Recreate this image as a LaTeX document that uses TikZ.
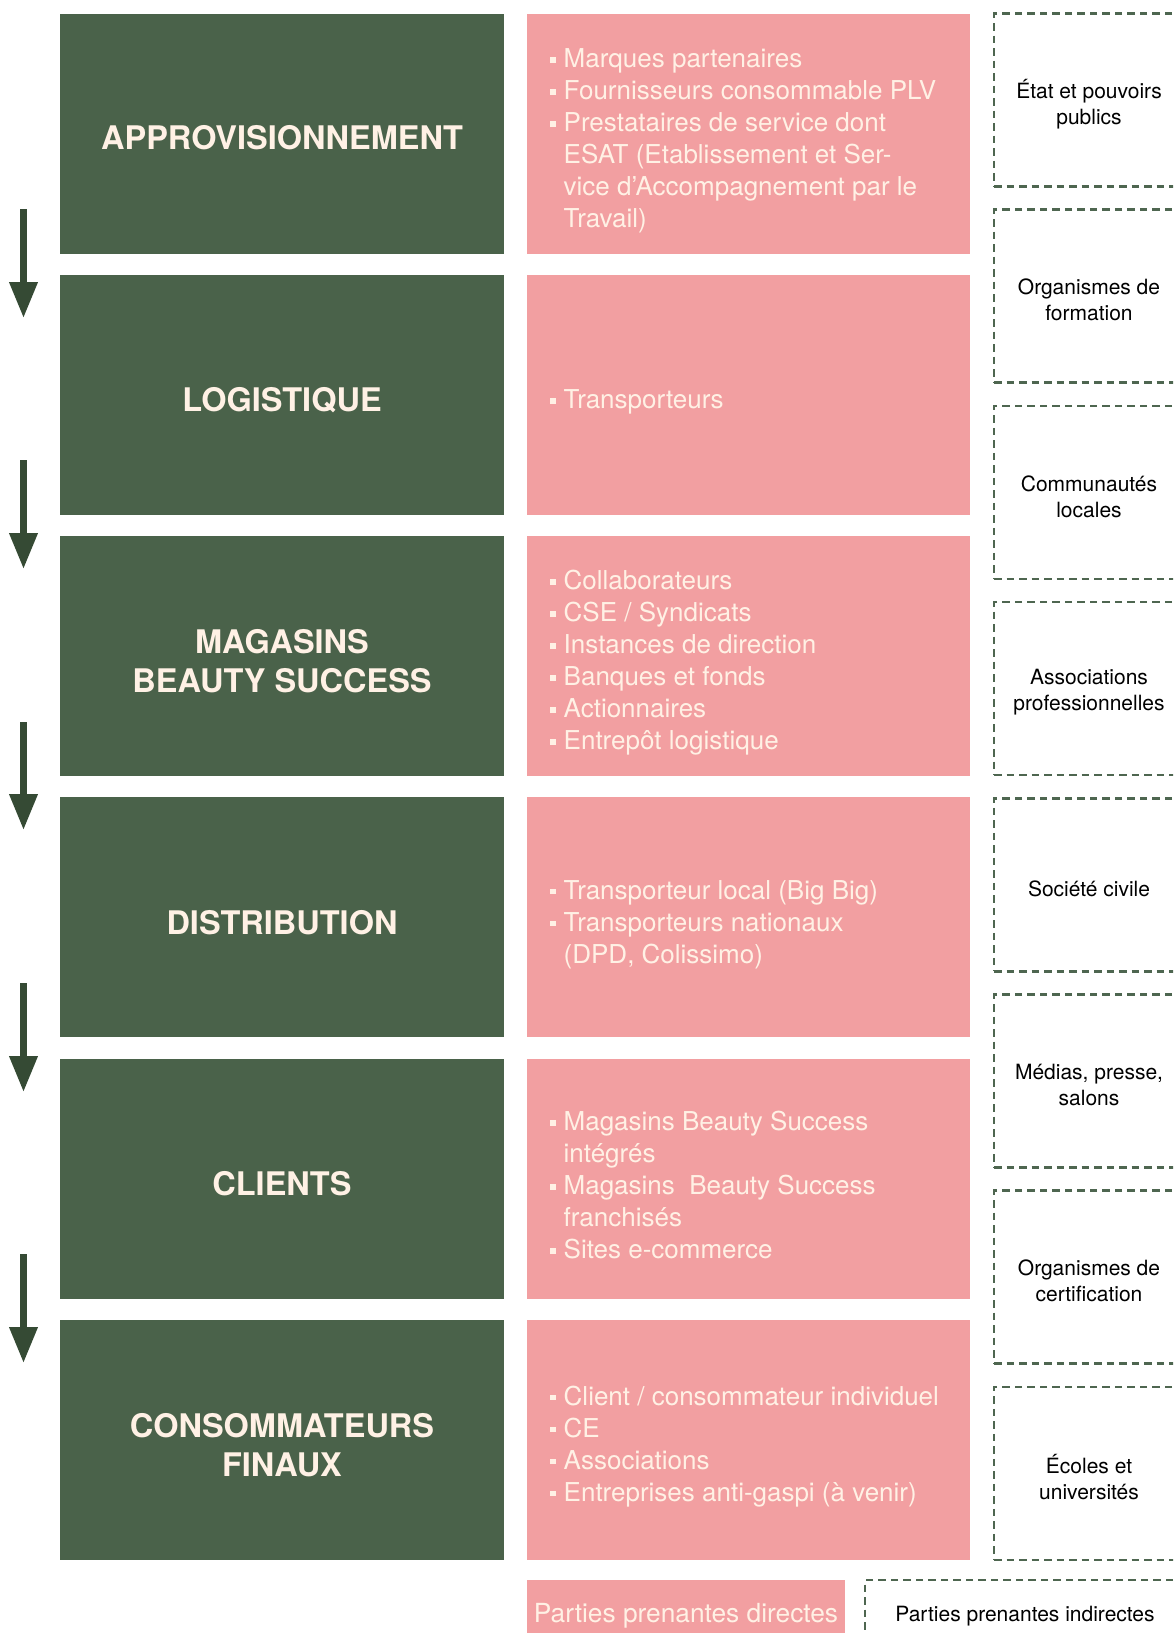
\documentclass[tikz,border=0pt]{standalone}
\usepackage{fontspec}
\setmainfont{TeX Gyre Heros}
\usetikzlibrary{arrows.meta}

\definecolor{forest}{HTML}{4A624A}
\definecolor{arrowgreen}{HTML}{354A34}
\definecolor{rose}{HTML}{F29FA1}
\definecolor{cream}{HTML}{FFF1E5}
\definecolor{dashgreen}{HTML}{4E6650}

% list bullet: small square followed by the hanging indent
\newcommand{\bul}{\makebox[13.5pt][l]{\rule[5pt]{5.5pt}{5.5pt}}}
\newcommand{\cont}{\hspace*{13.5pt}}

\tikzset{
  stagebox/.style={fill=forest, draw=none, minimum width=444pt, minimum height=240pt,
    inner sep=0pt},
  stagetext/.style={text=cream, align=center, inner sep=0pt,
    font=\fontsize{32.5}{39}\selectfont\bfseries},
  listbox/.style={fill=rose, draw=none, minimum width=443pt, minimum height=240pt, inner sep=0pt},
  listtext/.style={text=cream, align=left, anchor=west, inner sep=0pt,
    font=\fontsize{26}{32}\selectfont},
  indirbox/.style={draw=dashgreen, line width=2.6pt, dash pattern=on 7.5pt off 5pt,
    minimum width=190pt, minimum height=173pt, inner sep=0pt},
  indirtext/.style={align=center, inner sep=0pt, text=black,
    font=\fontsize{21}{26}\selectfont},
  flowarrow/.style={draw=arrowgreen, line width=7pt,
    -{Triangle[width=27pt,length=36pt]}, fill=arrowgreen},
}

\begin{document}
\begin{tikzpicture}[x=1pt,y=-1pt]
\useasboundingbox (0,0) rectangle (1173,1633);
\clip (0,0) rectangle (1173,1633);
\fill[white] (0,0) rectangle (1173,1633);

% value-chain stages
\node[stagebox] (g1) at (282,133.5) {};
\node[stagebox] (g2) at (282,394.8) {};
\node[stagebox] (g3) at (282,656.1) {};
\node[stagebox] (g4) at (282,917.4) {};
\node[stagebox] (g5) at (282,1178.7) {};
\node[stagebox] (g6) at (282,1440) {};
\node[stagetext] (s1) at (282,138) {APPROVISIONNEMENT};
\node[stagetext] (s2) at (282,400) {LOGISTIQUE};
\node[stagetext] (s3) at (282,661) {MAGASINS\\BEAUTY SUCCESS};
\node[stagetext] (s4) at (282,922.5) {DISTRIBUTION};
\node[stagetext] (s5) at (282,1184) {CLIENTS};
\node[stagetext] (s6) at (282,1445) {CONSOMMATEURS\\FINAUX};

% direct stakeholders
\node[listbox] (p1) at (748.5,133.5) {};
\node[listbox] (p2) at (748.5,394.8) {};
\node[listbox] (p3) at (748.5,656.1) {};
\node[listbox] (p4) at (748.5,917.4) {};
\node[listbox] (p5) at (748.5,1178.7) {};
\node[listbox] (p6) at (748.5,1440) {};

\node[listtext] (t1) at (550,141) {\bul Marques partenaires\\
  \bul Fournisseurs consommable PLV\\
  \bul Prestataires de service dont\\
  \cont ESAT (Etablissement et Ser-\\
  \cont vice d'Accompagnement par le\\
  \cont Travail)};
\node[listtext] (t2) at (550,402) {\bul Transporteurs};
\node[listtext] (t3) at (550,663) {\bul Collaborateurs\\
  \bul CSE / Syndicats\\
  \bul Instances de direction\\
  \bul Banques et fonds\\
  \bul Actionnaires\\
  \bul Entrepôt logistique};
\node[listtext] (t4) at (550,924.5) {\bul Transporteur local (Big Big)\\
  \bul Transporteurs nationaux\\
  \cont (DPD, Colissimo)};
\node[listtext] (t5) at (550,1185.5) {\bul Magasins Beauty Success\\
  \cont intégrés\\
  \bul Magasins\ \ Beauty Success\\
  \cont franchisés\\
  \bul Sites e-commerce};
\node[listtext] (t6) at (550,1446.5) {\bul Client / consommateur individuel\\
  \bul CE\\
  \bul Associations\\
  \bul Entreprises anti-gaspi (à venir)};

% indirect stakeholders
\node[indirbox] (d1) at (1089,100) {};
\node[indirbox] (d2) at (1089,296.2) {};
\node[indirbox] (d3) at (1089,492.4) {};
\node[indirbox] (d4) at (1089,688.6) {};
\node[indirbox] (d5) at (1089,884.8) {};
\node[indirbox] (d6) at (1089,1081) {};
\node[indirbox] (d7) at (1089,1277.2) {};
\node[indirbox] (d8) at (1089,1473.4) {};
\node[indirtext] (e1) at (1089,104) {État et pouvoirs\\publics};
\node[indirtext] (e2) at (1089,300.2) {Organismes de\\formation};
\node[indirtext] (e3) at (1089,496.4) {Communautés\\locales};
\node[indirtext] (e4) at (1089,692.6) {Associations\\professionnelles};
\node[indirtext] (e5) at (1089,888.8) {Société civile};
\node[indirtext] (e6) at (1089,1085) {Médias, presse,\\salons};
\node[indirtext] (e7) at (1089,1281.2) {Organismes de\\certification};
\node[indirtext] (e8) at (1089,1477.4) {Écoles et\\universités};

% legend
\node[fill=rose, minimum width=318pt, minimum height=68pt, inner sep=0pt] (legdir) at (686,1614) {};
\node[text=cream, inner sep=0pt, font=\fontsize{26.3}{30}\selectfont] (legdirt) at (686,1616)
  {Parties prenantes directes};
\node[indirbox, minimum width=320pt, minimum height=68pt] (legind) at (1025,1614) {};
\node[indirtext] (legindt) at (1025,1616) {Parties prenantes indirectes};

% flow arrows between stages
\coordinate (a1s) at (23.5,209);  \coordinate (a1e) at (23.5,318);
\coordinate (a2s) at (23.5,460);  \coordinate (a2e) at (23.5,569);
\coordinate (a3s) at (23.5,722);  \coordinate (a3e) at (23.5,830);
\coordinate (a4s) at (23.5,983);  \coordinate (a4e) at (23.5,1092);
\coordinate (a5s) at (23.5,1254); \coordinate (a5e) at (23.5,1363);
\draw[flowarrow] (a1s) -- (a1e);
\draw[flowarrow] (a2s) -- (a2e);
\draw[flowarrow] (a3s) -- (a3e);
\draw[flowarrow] (a4s) -- (a4e);
\draw[flowarrow] (a5s) -- (a5e);
\end{tikzpicture}
\end{document}
